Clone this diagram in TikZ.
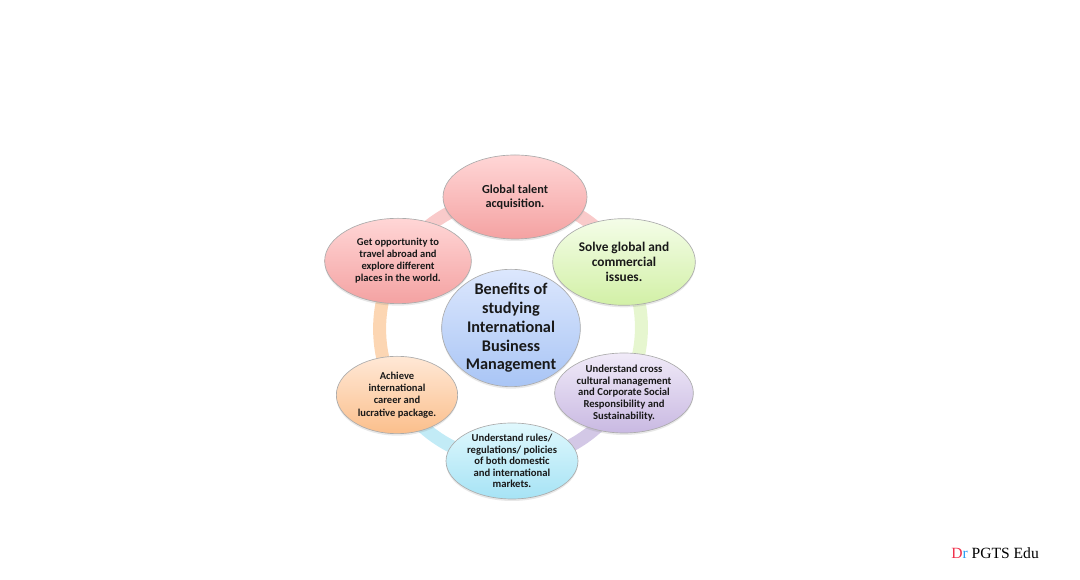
\documentclass[tikz,border=0pt]{standalone}
\usepackage{fontspec}
\setmainfont{Carlito}
\newfontfamily\sigfont{Liberation Serif}
\usepackage{xcolor}
\usepackage{tikz}
\usetikzlibrary{shapes.geometric,shadows}

\definecolor{pinkhi}{HTML}{FFD6D6}
\definecolor{pinklo}{HTML}{F4A2A2}
\definecolor{greenhi}{HTML}{F4FDE8}
\definecolor{greenlo}{HTML}{D2F0A6}
\definecolor{purplehi}{HTML}{F0EAF8}
\definecolor{purplelo}{HTML}{C9B9E2}
\definecolor{cyanhi}{HTML}{E0F8FD}
\definecolor{cyanlo}{HTML}{A6E3F5}
\definecolor{orangehi}{HTML}{FFE8D6}
\definecolor{orangelo}{HTML}{FBBF8C}
\definecolor{bluehi}{HTML}{DCE7FD}
\definecolor{bluelo}{HTML}{A9C5F5}
\definecolor{pinkring}{HTML}{F9CACA}
\definecolor{greenring}{HTML}{E6F6CF}
\definecolor{purplering}{HTML}{D3C8E6}
\definecolor{cyanring}{HTML}{C2EBF6}
\definecolor{orangering}{HTML}{FCD6B3}
\definecolor{drred}{HTML}{F0304A}
\definecolor{drblue}{HTML}{2A9DF4}

\begin{document}
\begin{tikzpicture}[x=0.75pt,y=0.75pt,
    bubble/.style={ellipse, draw=gray!65, line width=0.5pt, align=center,
      text=black!90, inner sep=-10pt,
      drop shadow={shadow xshift=0pt, shadow yshift=-1.5pt, opacity=0.18}},
    ring/.style={line width=9.75pt, bend left=30, looseness=0.91}]
    \useasboundingbox (0,0) rectangle (1080,580);

    % spots on the ring
    \coordinate (ptop) at (515,383);
    \coordinate (pgreen) at (624,318);
    \coordinate (ppurple) at (624,187);
    \coordinate (pcyan) at (512,119);
    \coordinate (porange) at (397,185);
    \coordinate (pred) at (398,319);

    % ring
    \draw[ring, pinkring] (ptop) to (pgreen);
    \draw[ring, greenring] (pgreen) to (ppurple);
    \draw[ring, purplering] (ppurple) to (pcyan);
    \draw[ring, cyanring] (pcyan) to (porange);
    \draw[ring, orangering] (porange) to (pred);
    \draw[ring, pinkring] (pred) to (ptop);

    % bubbles
    \node[bubble, top color=pinkhi, bottom color=pinklo,
      font=\bfseries\fontsize{9.2}{10.5}\selectfont,
      minimum width=108pt, minimum height=63pt] (talent) at (ptop)
      {Global talent\\ acquisition.};
    \node[bubble, top color=greenhi, bottom color=greenlo,
      font=\bfseries\fontsize{10}{11.3}\selectfont,
      minimum width=107pt, minimum height=65pt] (solve) at (pgreen)
      {Solve global and\\ commercial\\ issues.};
    \node[bubble, top color=purplehi, bottom color=purplelo,
      font=\bfseries\fontsize{8}{8.7}\selectfont,
      minimum width=104pt, minimum height=60pt] (cross) at (ppurple)
      {Understand cross\\ cultural management\\ and Corporate Social\\ Responsibility and\\ Sustainability.};
    \node[bubble, top color=cyanhi, bottom color=cyanlo,
      font=\bfseries\fontsize{8}{8.6}\selectfont,
      minimum width=99pt, minimum height=57pt] (rules) at (pcyan)
      {Understand rules/\\ regulations/ policies\\ of both domestic\\ and international\\ markets.};
    \node[bubble, top color=orangehi, bottom color=orangelo,
      font=\bfseries\fontsize{7.9}{9.2}\selectfont,
      minimum width=91pt, minimum height=58pt] (career) at (porange)
      {Achieve\\ international\\ career and\\ lucrative package.};
    \node[bubble, top color=pinkhi, bottom color=pinklo,
      font=\bfseries\fontsize{7.9}{9}\selectfont,
      minimum width=110pt, minimum height=64pt] (travel) at (pred)
      {Get opportunity to\\ travel abroad and\\ explore different\\ places in the world.};

    % centre
    \node[bubble, top color=bluehi, bottom color=bluelo,
      font=\bfseries\fontsize{12.2}{14.1}\selectfont,
      minimum width=104pt, minimum height=88pt] (benefits) at (511,252)
      {Benefits of\\ studying\\ International\\ Business\\ Management};

    \node[anchor=west, inner sep=0pt, font=\sigfont\fontsize{11.7}{13}\selectfont] (sig) at (951,27)
      {\textcolor{drred}{D}\textcolor{drblue}{r} PGTS Edu};
\end{tikzpicture}
\end{document}
